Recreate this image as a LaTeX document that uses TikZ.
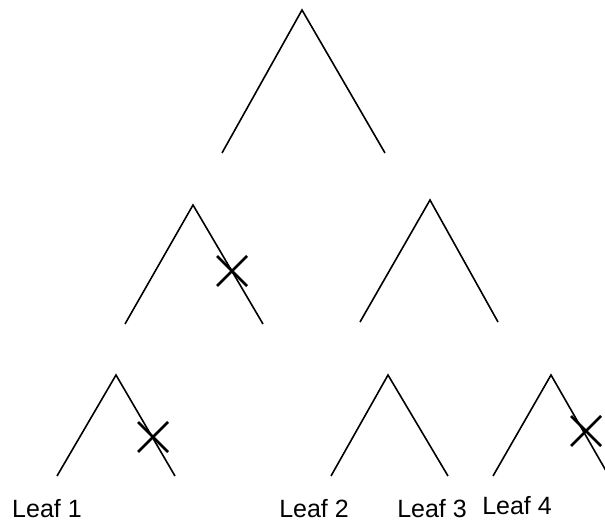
\documentclass[tikz,border=0pt]{standalone}
\usepackage{fontspec}
\setmainfont{Liberation Sans}
\usetikzlibrary{calc}
\tikzset{branch/.style={black,line width=1.6pt},
         cut/.style={black,line width=2.8pt},
         leaf/.style={font=\fontsize{25}{29}\selectfont, inner sep=0pt, anchor=base}}

\begin{document}
\begin{tikzpicture}[x=1pt,y=-1pt]
\useasboundingbox (0,0) rectangle (605,526);
\clip (0,0) rectangle (605,526);
% each subtree: apex, left foot, right foot
\foreach \n/\ax/\ay/\lx/\rx/\fy in {top/302/10/222/385/153, ml/193/205/125/263/324, mr/430/200/360/498/322, ba/116/375/57/175/476, bb/388/375/331/448/476, bc/551/375/493/609/476} {
\coordinate (\n-apex) at (\ax,\ay);
\coordinate (\n-left) at (\lx,\fy);
\coordinate (\n-right) at (\rx,\fy);
\draw[branch] (\n-left) -- (\n-apex) -- (\n-right);
}
% pruned branches
\foreach \n/\cx/\cy in {cutml/232/271, cutba/153/437, cutbc/586/431} {
\coordinate (\n) at (\cx,\cy);
\draw[cut] (\n) ++(-15,-15) -- ++(30,30);
\draw[cut] (\n) ++(-15,15) -- ++(30,-30);
}
\node[leaf] (leaf1) at (47,517) {Leaf 1};
\node[leaf] (leaf2) at (314,517) {Leaf 2};
\node[leaf] (leaf3) at (432,517) {Leaf 3};
\node[leaf] (leaf4) at (517,514) {Leaf 4};
\end{tikzpicture}
\end{document}
